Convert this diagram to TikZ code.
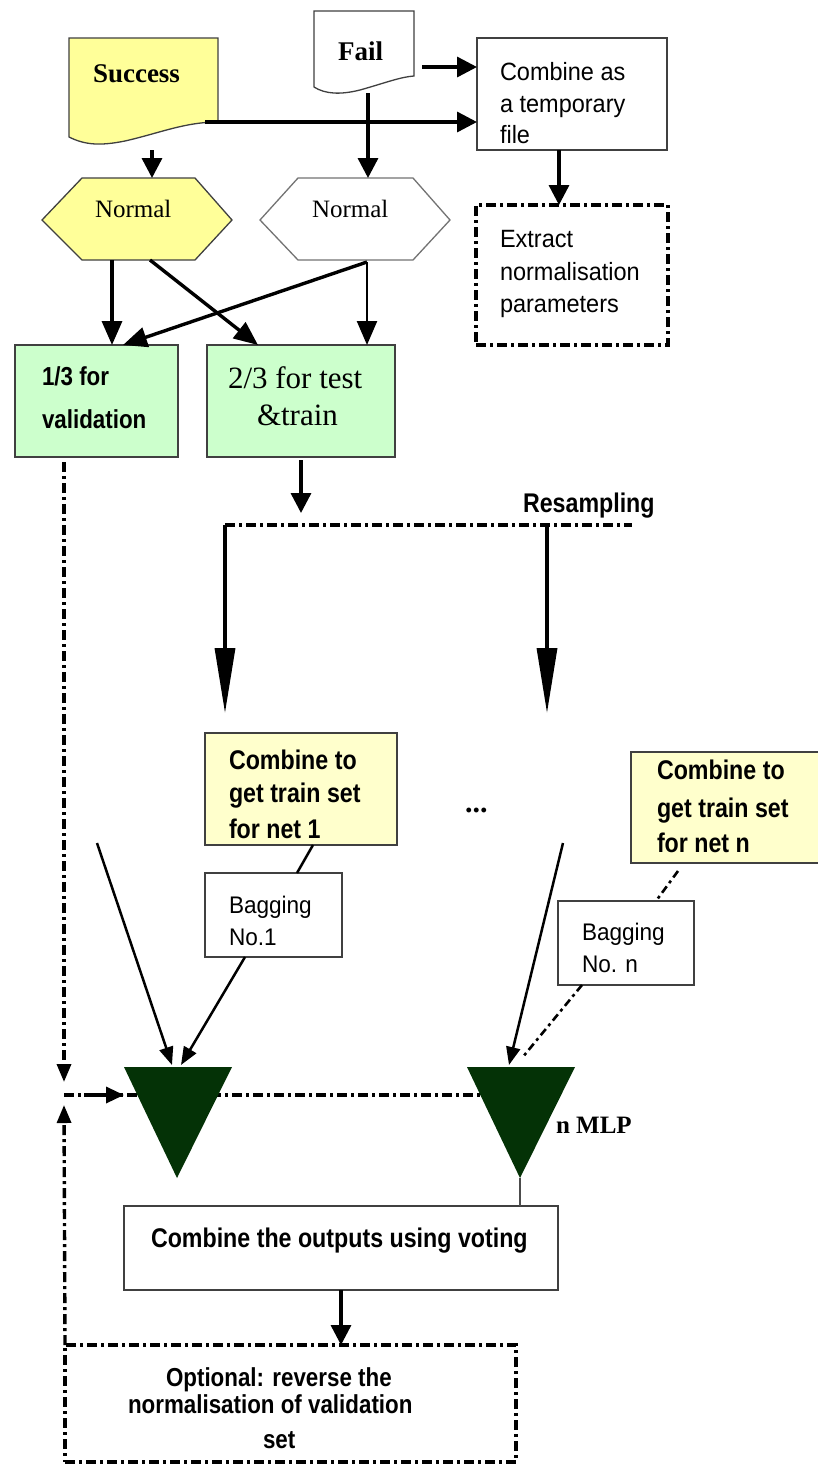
\documentclass[tikz,border=0pt]{standalone}
\usepackage{fontspec}
\setmainfont{Liberation Serif}
\newfontfamily\regsans[FakeStretch=0.94]{Liberation Sans}
\newfontfamily\narrowsans[FakeStretch=0.86]{Liberation Sans}
\usetikzlibrary{arrows.meta}
\newcommand\setfs[1]{\fontsize{#1pt}{#1pt}\selectfont}

\definecolor{docyellow}{RGB}{255,255,153}
\definecolor{paleyellow}{RGB}{255,255,204}
\definecolor{palegreen}{RGB}{204,255,204}
\definecolor{mlpgreen}{RGB}{4,50,6}

\tikzset{
  box/.style={draw=black!75, line width=1.6pt, inner sep=0pt, outer sep=0pt, anchor=north west},
  shapeline/.style={draw=black!75, line width=1.3pt},
  lbl/.style={inner sep=0pt, outer sep=0pt, anchor=base west},
  ddot/.style={line width=3.4pt, dash pattern=on 10pt off 4pt on 3pt off 4pt},
  thinddot/.style={line width=2.6pt, dash pattern=on 8pt off 4pt on 3pt off 4pt},
  bigarrow/.style={line width=3.4pt, -{Triangle[length=20pt,width=20pt]}},
  hexarrow/.style={line width=3.4pt, -{Triangle[length=24pt,width=20pt]}},
  longarrow/.style={line width=3.4pt, -{Triangle[length=65pt,width=20pt]}},
  finearrow/.style={line width=2.5pt, -{Triangle[length=18pt,width=14pt]}},
  smallarrow/.style={line width=3.4pt, -{Triangle[length=18pt,width=16pt]}},
  boldtxt/.style={font=\narrowsans\bfseries\setfs{27}},
  regtxt/.style={font=\regsans\setfs{25}},
}

\begin{document}
\begin{tikzpicture}[x=1pt,y=-1pt]
\useasboundingbox (0,0) rectangle (818,1468);
\fill[white] (0,0) rectangle (818,1468);

% --- input documents ---
\draw[shapeline, fill=docyellow] (69,38) -- (218,38) -- (218,122)
  .. controls (185,122) and (160,133) .. (125,141)
  .. controls (100,146) and (85,145) .. (69,137) -- cycle;
\node[lbl, font=\bfseries\setfs{27}] (success) at (93,82) {Success};
\coordinate (sucR) at (205,122);
\coordinate (sucB) at (152,150);

\draw[shapeline, fill=white] (314,11) -- (414,11) -- (414,76)
  .. controls (400,77) and (385,83) .. (360,90)
  .. controls (340,95) and (325,94) .. (314,87) -- cycle;
\node[lbl, font=\bfseries\setfs{27}] (fail) at (338,60) {Fail};
\coordinate (failR) at (414,67);
\coordinate (failB) at (368,93);

% --- temporary file and normalisation parameters ---
\node[box, fill=white, minimum width=190pt, minimum height=112pt] (comb) at (477,38) {};
\node[lbl, regtxt] (comb1) at (500,80) {Combine as};
\node[lbl, regtxt] (comb2) at (500,112) {a temporary};
\node[lbl, regtxt] (comb3) at (500,143) {file};

\node[box, ddot, draw=black, minimum width=192pt, minimum height=140pt] (extr) at (476,205) {};
\node[lbl, regtxt] (extr1) at (500,247) {Extract};
\node[lbl, regtxt] (extr2) at (500,280) {normalisation};
\node[lbl, regtxt] (extr3) at (500,312) {parameters};

% --- normalisation hexagons ---
\draw[shapeline, fill=docyellow] (42,220) -- (82,178) -- (195,178) -- (232,220) -- (195,260) -- (82,260) -- cycle;
\node[lbl, font=\setfs{25}] (norm1) at (95,217) {Normal};
\coordinate (hex1T) at (152,178);
\coordinate (hex1Ba) at (112,260);
\coordinate (hex1Bb) at (150,260);

\draw[shapeline, draw=black!55, fill=white] (260,220) -- (298,178) -- (413,178) -- (450,220) -- (413,260) -- (298,260) -- cycle;
\node[lbl, font=\setfs{25}] (norm2) at (312,217) {Normal};
\coordinate (hex2T) at (368,178);
\coordinate (hex2B) at (367,262);

% --- data split ---
\node[box, fill=palegreen, minimum width=163pt, minimum height=112pt] (val) at (15,345) {};
\node[lbl, font=\narrowsans\bfseries\setfs{26}] (val1) at (42,385) {1/3 for};
\node[lbl, font=\narrowsans\bfseries\setfs{26}] (val2) at (42,428) {validation};

\node[box, fill=palegreen, minimum width=188pt, minimum height=112pt] (tt) at (207,345) {};
\node[lbl, font=\setfs{31}] (tt1) at (228,388) {2/3 for test};
\node[lbl, font=\setfs{31}] (tt2) at (257,425) {\&train};

% --- resampling ---
\coordinate (resTop) at (301,513);
\coordinate (resL) at (225,525);
\coordinate (resM) at (547,525);
\coordinate (resR) at (632,525);
\node[lbl, font=\narrowsans\bfseries\setfs{27}] (resamp) at (523,512) {Resampling};
\coordinate (dn1) at (225,713);
\coordinate (dnn) at (547,713);

% --- training sets and bagging ---
\node[box, fill=paleyellow, minimum width=192pt, minimum height=112pt] (cnet1) at (205,733) {};
\node[lbl, boldtxt] (cn1a) at (229,769) {Combine to};
\node[lbl, boldtxt] (cn1b) at (229,802) {get train set};
\node[lbl, boldtxt] (cn1c) at (229,838) {for net 1};

\node[box, fill=paleyellow, minimum width=200pt, minimum height=111pt] (cnetn) at (631,752) {};
\node[lbl, boldtxt] (cnna) at (657,779) {Combine to};
\node[lbl, boldtxt] (cnnb) at (657,817) {get train set};
\node[lbl, boldtxt] (cnnc) at (657,852) {for net n};

\node[lbl, font=\bfseries\setfs{30}] (dots) at (465,812) {...};

\node[box, fill=white, minimum width=137pt, minimum height=84pt] (bag1) at (205,873) {};
\node[lbl, font=\regsans\setfs{24}] (bag1a) at (229,913) {Bagging};
\node[lbl, font=\regsans\setfs{24}] (bag1b) at (229,945) {No.1};

\node[box, fill=white, minimum width=136pt, minimum height=84pt] (bagn) at (558,901) {};
\node[lbl, font=\regsans\setfs{24}] (bagna) at (582,940) {Bagging};
\node[lbl, font=\regsans\setfs{24}] (bagnb) at (582,972) {No. n};

\coordinate (cnB) at (678,871);
\coordinate (free1) at (97,843);
\coordinate (freen) at (563,843);

% --- networks ---
\coordinate (jn) at (64,1095);
\coordinate (tri2c) at (520,1095);
\coordinate (t1a) at (172,1065);
\coordinate (t1b) at (181,1065);
\coordinate (t2a) at (509,1065);
\coordinate (t2b) at (522,1058);
\coordinate (t1in) at (124,1095);
\coordinate (apex2) at (520,1178);

\draw[ddot] (jn) -- (tri2c);
\fill[mlpgreen] (124,1067) -- (232,1067) -- (177,1178) -- cycle;
\fill[mlpgreen] (467,1067) -- (575,1067) -- (520,1178) -- cycle;
\node[lbl, font=\bfseries\setfs{25}] (mlp) at (556,1133) {n MLP};

% --- voting and final step ---
\node[box, fill=white, minimum width=434pt, minimum height=84pt] (vote) at (124,1206) {};
\node[lbl, boldtxt] (vote1) at (151,1247) {Combine the outputs using voting};

\node[box, ddot, draw=black, minimum width=451pt, minimum height=117pt] (opt) at (65,1345) {};
\node[lbl, font=\narrowsans\bfseries\setfs{26}] (opt1) at (166,1386) {Optional: reverse the};
\node[lbl, font=\narrowsans\bfseries\setfs{26}] (opt2) at (128,1413) {normalisation of validation};
\node[lbl, font=\narrowsans\bfseries\setfs{26}] (opt3) at (263,1448) {set};

% --- connectors ---
\draw[bigarrow] ([xshift=8pt]failR) -- (comb.west |- failR);
\draw[bigarrow] (sucR) -- (comb.west |- sucR);
\draw[bigarrow] (failB) -- (hex2T);
\draw[bigarrow] (sucB) -- (hex1T);
\draw[bigarrow] ([xshift=-13pt]comb.south) -- ([xshift=-13pt]extr.north);

\draw[hexarrow] (hex1Ba) -- (val.north -| hex1Ba);
\draw[hexarrow] (hex1Bb) -- ([xshift=-43pt]tt.north);
\draw[hexarrow] (hex2B) -- ([xshift=26.5pt]val.north);
\draw[line width=2.4pt, -{Triangle[length=24pt,width=20pt]}] (hex2B) -- (tt.north -| hex2B);

\draw[bigarrow] ([yshift=-3pt]tt.south) -- (resTop);
\draw[ddot] (resL) -- (resR);
\draw[longarrow] (resL) -- (dn1);
\draw[longarrow] (resM) -- (dnn);

\draw[ddot, -{Triangle[length=18pt,width=14pt]}] ([xshift=-32.5pt,yshift=-5pt]val.south) -- ([yshift=13pt]jn);
\draw[ddot, -{Triangle[length=18pt,width=14pt]}] (opt.north west) -- ([yshift=-10pt]jn);
\draw[smallarrow] ([xshift=20pt]jn) -- (t1in);

\draw[line width=2.5pt] ([xshift=12pt]cnet1.south) -- ([xshift=23.5pt]bag1.north);
\draw[finearrow] ([xshift=-28.5pt]bag1.south) -- (t1b);
\draw[finearrow] (free1) -- (t1a);
\draw[finearrow] (freen) -- (t2a);
\draw[thinddot] (cnB) -- ([xshift=30pt]bagn.north);
\draw[thinddot] ([xshift=-44pt]bagn.south) -- (t2b);

\draw[line width=1.2pt, black!70] (apex2) -- (vote.north -| apex2);
\draw[bigarrow] (vote.south) -- (vote.south |- opt.north);
\end{tikzpicture}
\end{document}
